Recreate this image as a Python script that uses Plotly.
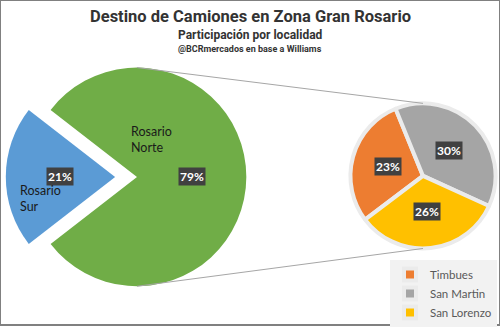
import math
import plotly.graph_objects as go

# ---- data ----
big_labels = ["Rosario Sur", "Rosario Norte"]
big_values = [21, 79]
sub_labels = ["Timbues", "San Martin", "San Lorenzo"]
sub_values = [23, 30, 26]

big_colors = ["#5B9BD5", "#70AD47"]
sub_colors = ["#ED7D31", "#A5A5A5", "#FFC000"]

W, H = 500, 327
# layout geometry (pixels)
BIG_C = (137, 178)
BIG_R = 110
PULL = 0.2
SUB_C = (423, 177)
SUB_R = 73
SUB_ROT = 233


def px(x, y):
    return x / W, 1 - y / H


def domain(c, r, pull=0.0):
    h = r * (1 + pull)
    x0, y1 = px(c[0] - h, c[1] - h)
    x1, y0 = px(c[0] + h, c[1] + h)
    return dict(x=[x0, x1], y=[y0, y1])


tot_big = sum(big_values)
big_rot = 270 - big_values[0] / tot_big * 360 / 2

fig = go.Figure()
fig.add_trace(go.Pie(
    labels=big_labels, values=big_values, sort=False, direction="clockwise",
    rotation=big_rot, pull=[PULL, 0], marker=dict(colors=big_colors, line=dict(width=0)),
    textinfo="none", hoverinfo="label+percent", showlegend=False,
    domain=domain(BIG_C, BIG_R, PULL),
))
fig.add_trace(go.Pie(
    labels=sub_labels, values=sub_values, sort=False, direction="clockwise",
    rotation=SUB_ROT, marker=dict(colors=sub_colors, line=dict(width=4, color="#ebebeb")),
    textinfo="none", hoverinfo="label+value", showlegend=True,
    domain=domain(SUB_C, SUB_R),
))

annotations = []
shapes = []


def pct_labels(values, total, center, r, rot, pulls=None):
    a = rot
    s = sum(values)
    for i, v in enumerate(values):
        span = v / s * 360
        mid = math.radians(a + span / 2)
        p = pulls[i] if pulls else 0
        d = (p + 0.5) * r
        x = center[0] + d * math.sin(mid)
        y = center[1] - d * math.cos(mid)
        xp, yp = px(x, y)
        annotations.append(dict(
            x=xp, y=yp, xref="paper", yref="paper", showarrow=False,
            xanchor="center", yanchor="middle",
            text="<b>%d%%</b>" % round(v / total * 100),
            font=dict(family="Lato", size=12, color="white"),
            bgcolor="#404040", borderpad=1,
        ))
        a += span


pct_labels(big_values, tot_big, BIG_C, BIG_R, big_rot, [PULL, 0])
pct_labels(sub_values, tot_big, SUB_C, SUB_R, SUB_ROT)

# category labels on the big pie
for text, (x, y) in [("Rosario<br>Norte", (151, 140)), ("Rosario<br>Sur", (40, 200))]:
    xp, yp = px(x, y)
    annotations.append(dict(
        x=xp, y=yp, xref="paper", yref="paper", showarrow=False, align="left",
        xanchor="center", yanchor="middle",
        text=text, font=dict(family="Lato", size=12.5, color="#1a1a1a"),
    ))

# connector lines between the pies
for sign in (-1, 1):
    x0, y0 = px(BIG_C[0], BIG_C[1] + sign * BIG_R)
    x1, y1 = px(SUB_C[0], SUB_C[1] + sign * SUB_R)
    shapes.append(dict(type="line", xref="paper", yref="paper", x0=x0, y0=y0, x1=x1, y1=y1,
                       line=dict(color="#a6a6a6", width=1)))

# frame
shapes.append(dict(type="rect", xref="paper", yref="paper", x0=0, y0=0, x1=1, y1=1,
                   line=dict(color="#808080", width=2)))

# titles
title_font = "Roboto, sans-serif"
for text, y, size in [("Destino de Camiones en Zona Gran Rosario", 17, 16.5),
                      ("Participación por localidad", 35, 12),
                      ("@BCRmercados en base a Williams", 49, 9)]:
    annotations.append(dict(
        x=0.5, y=px(0, y)[1], xref="paper", yref="paper", showarrow=False,
        xanchor="center", yanchor="middle",
        text="<b>%s</b>" % text, font=dict(family=title_font, size=size, color="#333333"),
    ))

fig.update_layout(
    width=W, height=H, margin=dict(l=0, r=0, t=0, b=0),
    paper_bgcolor="white", plot_bgcolor="white",
    annotations=annotations, shapes=shapes,
    legend=dict(x=1 - 3 / W, y=1 - 262 / H, xanchor="right", yanchor="top",
                bgcolor="#f2f2f2", font=dict(family="Lato", size=11.5, color="#595959"),
                itemwidth=30, tracegroupgap=0),
)

fig.write_html("out.html")
